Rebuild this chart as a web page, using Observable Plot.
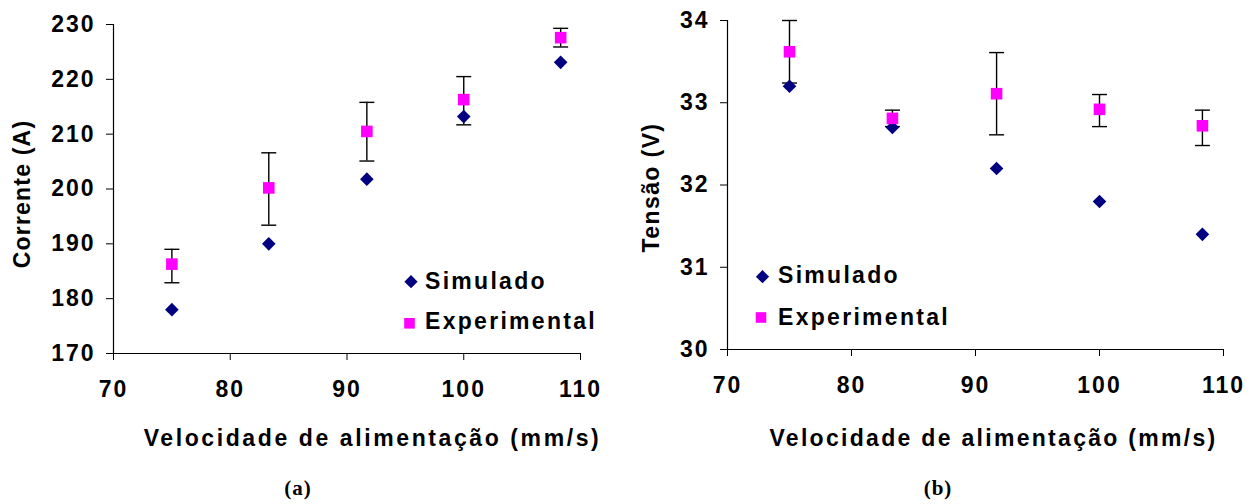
<!DOCTYPE html>
<html><head><meta charset="utf-8">
<script src="https://cdn.jsdelivr.net/npm/d3@7"></script>
<script src="https://cdn.jsdelivr.net/npm/@observablehq/plot@0.6"></script>
<style>
html,body{margin:0;padding:0;background:#fff;}
#wrap{position:relative;width:1257px;height:504px;overflow:hidden;background:#fff;}
.panel{position:absolute;top:0;}
#overlay{position:absolute;left:0;top:0;pointer-events:none;}
</style></head><body>
<div id="wrap"></div>
<script>
// ---- data ----
const velocidade = [75, 83.3, 91.7, 100, 108.3];
const correnteSimulado = [178, 190, 201.8, 213.2, 223.1];
const correnteExperimental = [186.3, 200.2, 210.5, 216.3, 227.6];
const correnteErroInf = [182.9, 193.4, 205.1, 211.7, 225.9];
const correnteErroSup = [189.0, 206.6, 215.8, 220.5, 229.3];
const tensaoSimulado = [33.2, 32.7, 32.2, 31.8, 31.4];
const tensaoExperimental = [33.62, 32.81, 33.11, 32.92, 32.72];
const tensaoErroInf = [33.24, 32.71, 32.61, 32.71, 32.48];
const tensaoErroSup = [34.0, 32.91, 33.61, 33.10, 32.91];
const xTicks = [70, 80, 90, 100, 110];
const correnteTicks = [170, 180, 190, 200, 210, 220, 230];
const tensaoTicks = [30, 31, 32, 33, 34];
const seriesNames = ["Simulado", "Experimental"];
const xLabel = "Velocidade de alimentação (mm/s)";
const yLabelA = "Corrente (A)";
const yLabelB = "Tensão (V)";
const captions = ["(a)", "(b)"];

const colSim = "#000080", colExp = "#FF00FF";
const FONT = "'Liberation Sans', Arial, sans-serif";
const diamond = {draw(c){c.moveTo(0,-6.8);c.lineTo(6.8,0);c.lineTo(0,6.8);c.lineTo(-6.8,0);c.closePath();}};
const square = {draw(c){c.rect(-5.8,-5.8,11.6,11.6);}};
const cap = {draw(c){c.moveTo(-7.5,0);c.lineTo(7.5,0);}};

function rowsOf(sim, exp, lo, hi){
  return velocidade.map((v,i)=>({v, sim: sim[i], exp: exp[i], lo: lo[i], hi: hi[i]}));
}

function panel(o){
  const rows = rowsOf(o.sim, o.exp, o.lo, o.hi);
  const tickText = {fontSize: 23, fontWeight: "bold", fontFamily: FONT};
  const svg = Plot.plot({
    width: o.width, height: 504,
    marginLeft: o.ml, marginRight: o.mr, marginTop: o.mt, marginBottom: o.mb,
    x: {domain: [70, 110]},
    y: {domain: [o.yTicks[0], o.yTicks[o.yTicks.length-1]]},
    style: {fontFamily: FONT, fontSize: "23px", fontWeight: "bold",
            letterSpacing: "2px", color: "black", background: "white", overflow: "visible"},
    marks: [
      Plot.axisX({ticks: xTicks, tickSize: 7, tickPadding: 20, label: null, tickFormat: d => String(d), ...tickText}),
      Plot.axisY({ticks: o.yTicks, tickSize: 7, tickPadding: 11, label: null, tickFormat: d => String(d), ...tickText}),
      Plot.ruleY([o.yTicks[0]], {stroke: "black", strokeWidth: 1.2}),
      Plot.ruleX([70], {stroke: "black", strokeWidth: 1.2}),
      Plot.ruleX(rows, {x: "v", y1: "lo", y2: "hi", stroke: "black", strokeWidth: 1.4}),
      Plot.dot(rows, {x: "v", y: "lo", symbol: cap, fill: "none", stroke: "black", strokeWidth: 1.4}),
      Plot.dot(rows, {x: "v", y: "hi", symbol: cap, fill: "none", stroke: "black", strokeWidth: 1.4}),
      Plot.dot(rows, {x: "v", y: "sim", symbol: diamond, fill: colSim, stroke: "none"}),
      Plot.dot(rows, {x: "v", y: "exp", symbol: square, fill: colExp, stroke: "none"}),
      Plot.text([o.yLabel], {text: d => d, frameAnchor: "left", rotate: -90, lineAnchor: "middle",
                             textAnchor: "middle", dx: o.ydx, dy: o.ydy, ...tickText}),
      Plot.text([xLabel], {text: d => d, frameAnchor: "bottom", lineAnchor: "middle",
                           textAnchor: "middle", dx: o.xdx, dy: o.xdy, ...tickText})
    ]
  });
  d3.select(svg).selectAll("text")
    .filter(function(){ return this.textContent === xLabel; }).style("letter-spacing", o.xls);
  d3.select(svg).selectAll("text")
    .filter(function(){ return this.textContent === o.yLabel; }).style("letter-spacing", o.yls);
  return svg;
}

const wrap = document.getElementById("wrap");
const pA = panel({width: 600, ml: 113, mr: 20, mt: 24, mb: 151, yTicks: correnteTicks,
  sim: correnteSimulado, exp: correnteExperimental, lo: correnteErroInf, hi: correnteErroSup,
  yLabel: yLabelA, yls: "1.2px", xls: "2.6px", ydx: -91, ydy: 5, xdx: 25.5, xdy: 85.6});
pA.classList.add("panel"); pA.style.left = "0px";
wrap.appendChild(pA);
const pB = panel({width: 627, ml: 97, mr: 34, mt: 20, mb: 155, yTicks: tensaoTicks,
  sim: tensaoSimulado, exp: tensaoExperimental, lo: tensaoErroInf, hi: tensaoErroSup,
  yLabel: yLabelB, yls: "1.4px", xls: "2.3px", ydx: -76, ydy: 2.5, xdx: 18, xdy: 89.6});
pB.classList.add("panel"); pB.style.left = "630px";
wrap.appendChild(pB);

// ---- legends & captions overlay ----
const ov = d3.select(wrap).append("svg").attr("id", "overlay").attr("width", 1257).attr("height", 504);
const legends = [
  {dx: 411, dy: 281.7, sx: 409.5, sy: 323.3, tx: 425, t1: 289, t2: 329},
  {dx: 762.5, dy: 276.7, sx: 761, sy: 317.5, tx: 778, t1: 283, t2: 325}
];
legends.forEach(L => {
  ov.append("path").attr("d", "M0,-6.6L6.6,0L0,6.6L-6.6,0Z").attr("fill", colSim)
    .attr("transform", `translate(${L.dx},${L.dy})`);
  ov.append("rect").attr("x", L.sx - 5.3).attr("y", L.sy - 5.3).attr("width", 10.6).attr("height", 10.6).attr("fill", colExp);
  [[seriesNames[0], L.t1], [seriesNames[1], L.t2]].forEach(([s, y]) => {
    ov.append("text").attr("x", L.tx).attr("y", y).text(s)
      .attr("font-family", FONT).attr("font-weight", "bold")
      .attr("font-size", 23).style("letter-spacing", "2.3px");
  });
});
[[captions[0], 298], [captions[1], 938]].forEach(([c, x]) => {
  ov.append("text").attr("x", x).attr("y", 495).attr("text-anchor", "middle").text(c)
    .attr("font-family", "'Liberation Serif', 'Times New Roman', serif").attr("font-weight", "bold")
    .attr("font-size", 21).style("letter-spacing", "1px");
});
</script>
</body></html>
